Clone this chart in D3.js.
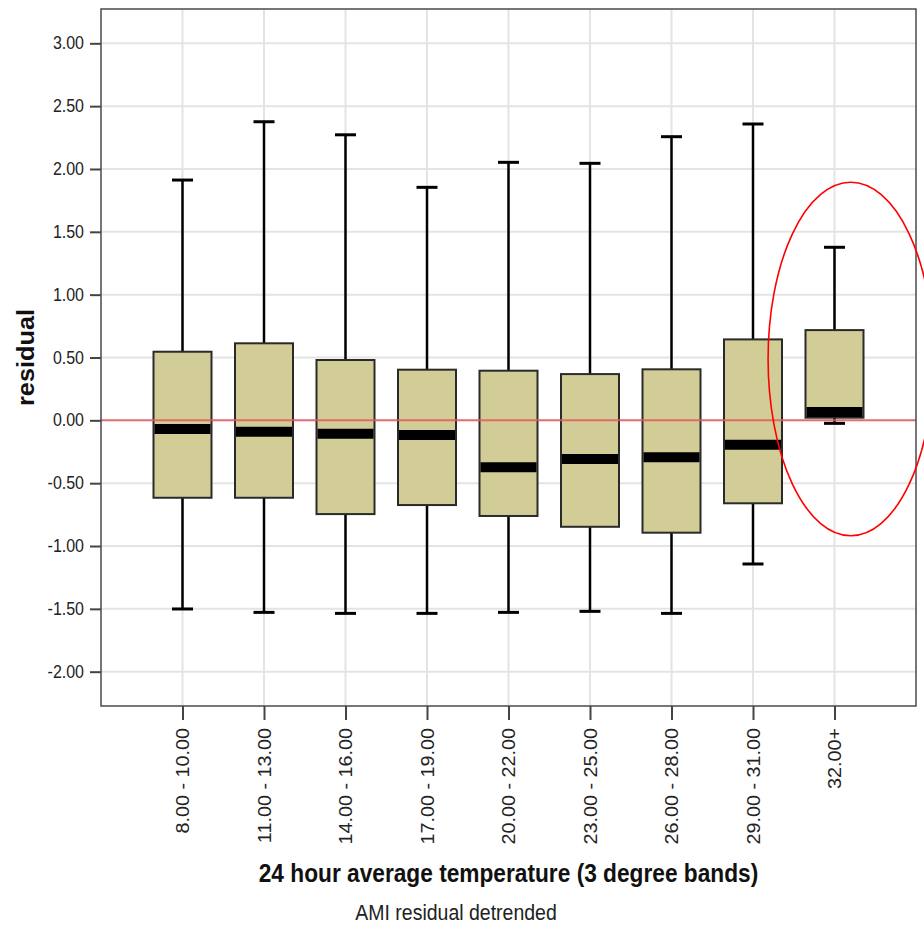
<!DOCTYPE html>
<html>
<head>
<meta charset="utf-8">
<script src="https://cdn.jsdelivr.net/npm/d3@7"></script>
<style>
  html, body { margin: 0; padding: 0; background: #fff; }
  svg { display: block; font-family: "Liberation Sans", Arial, sans-serif; }
</style>
</head>
<body>
<svg id="chart" width="924" height="925"></svg>
<script>
// Temperature bands (3 degree)
const categories = ["8.00 - 10.00", "11.00 - 13.00", "14.00 - 16.00", "17.00 - 19.00",
  "20.00 - 22.00", "23.00 - 25.00", "26.00 - 28.00", "29.00 - 31.00", "32.00+"];
// Box plot statistics for the AMI residual per band
const whiskerHigh = [1.912, 2.376, 2.272, 1.854, 2.053, 2.045, 2.257, 2.358, 1.377];
const upperQuartile = [0.546, 0.613, 0.480, 0.403, 0.395, 0.368, 0.406, 0.644, 0.718];
const medians = [-0.069, -0.091, -0.107, -0.117, -0.374, -0.308, -0.294, -0.194, 0.066];
const lowerQuartile = [-0.616, -0.616, -0.746, -0.674, -0.761, -0.847, -0.894, -0.660, 0.021];
const whiskerLow = [-1.501, -1.528, -1.536, -1.536, -1.528, -1.520, -1.536, -1.143, -0.024];
const yTicks = [-2, -1.5, -1, -0.5, 0, 0.5, 1, 1.5, 2, 2.5, 3];
// Highlighted band and the extent of its outline (in residual units)
const highlightBand = "32.00+";
const highlightCenter = 0.488;
const highlightHalfHeight = 1.406;

const rows = categories.map((c, i) => ({
  cat: c, hi: whiskerHigh[i], q3: upperQuartile[i], med: medians[i],
  q1: lowerQuartile[i], lo: whiskerLow[i]
}));

const svg = d3.select("#chart");
const plot = { left: 101, right: 916, top: 9, bottom: 706 };
const stretch = 1.1; // glyphs are drawn slightly tall

const x = d3.scalePoint().domain(categories).range([plot.left, plot.right]).padding(1);
const y = d3.scaleLinear().domain([-2.273, 3.273]).range([plot.bottom, plot.top]);

const grid = svg.append("g").attr("stroke", "#e4e4e4").attr("stroke-width", 2);
grid.selectAll("line.h").data(yTicks).join("line").attr("class", "h")
  .attr("x1", plot.left).attr("x2", plot.right)
  .attr("y1", d => y(d)).attr("y2", d => y(d));
grid.selectAll("line.v").data(categories).join("line").attr("class", "v")
  .attr("x1", d => x(d)).attr("x2", d => x(d))
  .attr("y1", plot.top).attr("y2", plot.bottom);

// Axes
const yAxis = svg.append("g").attr("transform", `translate(${plot.left},0)`)
  .call(d3.axisLeft(y).tickValues(yTicks).tickFormat(d => d.toFixed(2)).tickSize(11).tickPadding(6));
yAxis.select(".domain").remove();
yAxis.selectAll(".tick line").attr("stroke", "#444").attr("stroke-width", 2);
yAxis.selectAll(".tick text").attr("font-size", 16).attr("fill", "#222")
  .attr("font-family", "Liberation Sans, Arial, sans-serif")
  .attr("transform", `scale(1,${stretch})`);

const xAxis = svg.append("g").attr("transform", `translate(0,${plot.bottom})`)
  .call(d3.axisBottom(x).tickSize(14));
xAxis.select(".domain").remove();
xAxis.selectAll(".tick line").attr("stroke", "#444").attr("stroke-width", 2);
xAxis.selectAll(".tick text").attr("font-size", 18).attr("fill", "#222")
  .attr("font-family", "Liberation Sans, Arial, sans-serif")
  .attr("x", 0).attr("y", 0).attr("dy", "0.35em")
  .attr("text-anchor", "end")
  .attr("transform", `translate(0,22) scale(1,${stretch}) rotate(-90)`);

// Boxes
const boxW = 58, capW = 21;
const boxes = svg.append("g").selectAll("g").data(rows).join("g");
boxes.append("line").attr("x1", d => x(d.cat)).attr("x2", d => x(d.cat))
  .attr("y1", d => y(d.hi)).attr("y2", d => y(d.q3))
  .attr("stroke", "#000").attr("stroke-width", 2.5);
boxes.append("line").attr("x1", d => x(d.cat)).attr("x2", d => x(d.cat))
  .attr("y1", d => y(d.q1)).attr("y2", d => y(d.lo))
  .attr("stroke", "#000").attr("stroke-width", 2.5);
boxes.append("line").attr("x1", d => x(d.cat) - capW / 2).attr("x2", d => x(d.cat) + capW / 2)
  .attr("y1", d => y(d.hi)).attr("y2", d => y(d.hi))
  .attr("stroke", "#000").attr("stroke-width", 3);
boxes.append("line").attr("x1", d => x(d.cat) - capW / 2).attr("x2", d => x(d.cat) + capW / 2)
  .attr("y1", d => y(d.lo)).attr("y2", d => y(d.lo))
  .attr("stroke", "#000").attr("stroke-width", 3);
boxes.append("rect")
  .attr("x", d => x(d.cat) - boxW / 2).attr("width", boxW)
  .attr("y", d => y(d.q3)).attr("height", d => y(d.q1) - y(d.q3))
  .attr("fill", "#d2cd97").attr("stroke", "#2a2a2a").attr("stroke-width", 2);
boxes.append("line")
  .attr("x1", d => x(d.cat) - boxW / 2 + 1).attr("x2", d => x(d.cat) + boxW / 2 - 1)
  .attr("y1", d => y(d.med)).attr("y2", d => y(d.med))
  .attr("stroke", "#000").attr("stroke-width", 10);

// Zero reference line
svg.append("line").attr("x1", plot.left).attr("x2", plot.right)
  .attr("y1", y(0)).attr("y2", y(0))
  .attr("stroke", "#e25c5c").attr("stroke-opacity", 0.85).attr("stroke-width", 2);

// Plot frame
svg.append("rect").attr("x", plot.left).attr("y", plot.top)
  .attr("width", plot.right - plot.left).attr("height", plot.bottom - plot.top)
  .attr("fill", "none").attr("stroke", "#4a4a4a").attr("stroke-width", 1.5);

// Outline around the hottest band
const step = x.step();
svg.append("ellipse")
  .attr("cx", x(highlightBand) + step * 0.2)
  .attr("cy", y(highlightCenter))
  .attr("rx", step * 1.015)
  .attr("ry", y(0) - y(highlightHalfHeight))
  .attr("fill", "none").attr("stroke", "#ff0000").attr("stroke-width", 1.6);

// Titles
svg.append("text")
  .attr("transform", `translate(34,${(plot.top + plot.bottom) / 2}) scale(1,${stretch}) rotate(-90)`)
  .attr("text-anchor", "middle").attr("font-weight", "bold").attr("font-size", 23)
  .attr("fill", "#111").text("residual");

svg.append("text")
  .attr("transform", `translate(${(plot.left + plot.right) / 2},882) scale(1,${stretch})`)
  .attr("text-anchor", "middle").attr("font-weight", "bold").attr("font-size", 22.7)
  .attr("fill", "#111").text("24 hour average temperature (3 degree bands)");

svg.append("text")
  .attr("transform", `translate(456,920) scale(1,${stretch})`)
  .attr("text-anchor", "middle").attr("font-size", 19.5)
  .attr("fill", "#222").text("AMI residual detrended");
</script>
</body>
</html>
